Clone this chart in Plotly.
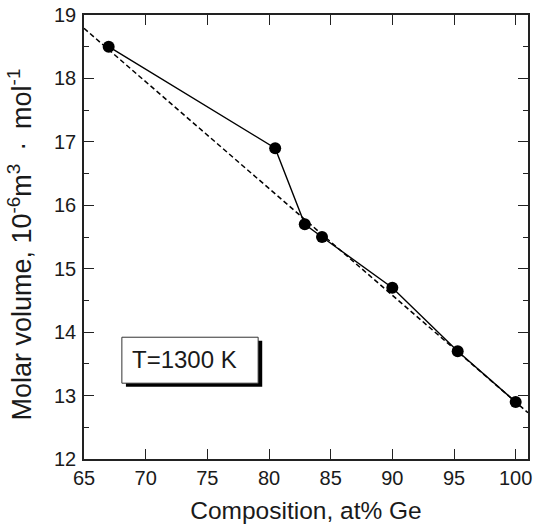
import plotly.graph_objects as go

# Measured molar volume of the melt vs. germanium content at T = 1300 K
ge_at_pct = [67.0, 80.5, 82.9, 84.3, 90.0, 95.3, 100.0]
molar_volume = [18.5, 16.9, 15.7, 15.5, 14.7, 13.7, 12.9]

# Ideal (additive) molar volume line across the plotted range
ideal_x = [65.0, 101.0]
ideal_y = [18.79, 12.73]

x_ticks = [65, 70, 75, 80, 85, 90, 95, 100]
y_ticks = [12, 13, 14, 15, 16, 17, 18, 19]

FONT = "Liberation Sans, Arial, Helvetica, sans-serif"
INK = "#1a1a1a"

fig = go.Figure()

fig.add_trace(go.Scatter(
    x=ideal_x, y=ideal_y, mode="lines",
    line=dict(color="black", width=1.5, dash="5px,3px"),
    showlegend=False, hoverinfo="skip",
))

fig.add_trace(go.Scatter(
    x=ge_at_pct, y=molar_volume, mode="lines+markers",
    line=dict(color="black", width=1.4),
    marker=dict(color="black", size=12, line=dict(width=0)),
    showlegend=False,
))

# Label box with drop shadow (shadow first, then the white box on top)
fig.add_shape(type="rect", xref="x", yref="y",
              x0=68.07 + 0.33, x1=79.12 + 0.33, y0=13.195 - 0.055, y1=13.92 - 0.055,
              fillcolor="black", line=dict(width=0), layer="above")
fig.add_shape(type="rect", xref="x", yref="y",
              x0=68.07, x1=79.12, y0=13.195, y1=13.92,
              fillcolor="white", line=dict(color="#333333", width=1), layer="above")
fig.add_annotation(x=73.15, y=13.565, xref="x", yref="y", text="T=1300 K",
                   showarrow=False, font=dict(family=FONT, size=24, color=INK))

# Y-axis title, rotated, placed left of the tick labels
fig.add_annotation(
    xref="paper", yref="paper", x=-0.145, y=0.482,
    xanchor="center", yanchor="middle", textangle=-90, showarrow=False,
    text="Molar volume, 10<sup>-6</sup>m<sup>3</sup>\u2009 · \u2009mol<sup>-1</sup>",
    font=dict(family=FONT, size=27, color=INK),
)

axis_common = dict(
    showline=True, linecolor="#222222", linewidth=1.5, mirror="ticks",
    ticks="inside", ticklen=10, tickwidth=1.3, tickcolor="#222222",
    showgrid=False, zeroline=False,
    tickfont=dict(family=FONT, size=20, color=INK),
)

fig.update_xaxes(
    range=[65, 101], tickvals=x_ticks, ticktext=[str(v) for v in x_ticks],
    title=dict(text="Composition, at% Ge", font=dict(family=FONT, size=24.5, color=INK), standoff=14),
    **axis_common,
)
fig.update_yaxes(
    range=[12, 19], tickvals=y_ticks, ticktext=[str(v) for v in y_ticks],
    ticklabelstandoff=2,
    minor=dict(ticks="inside", ticklen=5, dtick=0.5, tick0=12, tickcolor="#222222", tickwidth=1.3, showgrid=False),
    **axis_common,
)

fig.update_layout(
    width=539, height=530,
    margin=dict(l=84, r=11, t=15, b=71, autoexpand=False),
    paper_bgcolor="white", plot_bgcolor="white",
    font=dict(family=FONT, color=INK),
)

fig.write_html("out.html")
